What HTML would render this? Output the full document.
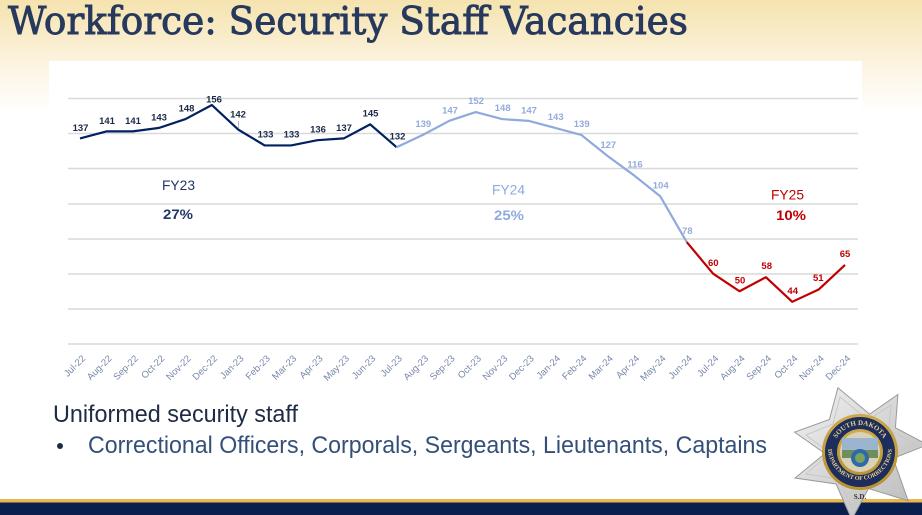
<!DOCTYPE html>
<html><head><meta charset="utf-8"><style>
html,body{margin:0;padding:0;background:#fff;}
svg{display:block;}
</style></head><body>
<svg width="922" height="515" viewBox="0 0 922 515" xmlns="http://www.w3.org/2000/svg">
<defs>
<linearGradient id="bg" x1="0" y1="0" x2="0" y2="1">
<stop offset="0" stop-color="#f5e3af"/>
<stop offset="0.35" stop-color="#f9edcd"/>
<stop offset="0.65" stop-color="#fdf7e8"/>
<stop offset="1" stop-color="#ffffff"/>
</linearGradient>
<linearGradient id="silver" x1="0" y1="0" x2="1" y2="1">
<stop offset="0" stop-color="#f2f2f2"/>
<stop offset="0.5" stop-color="#d4d4d4"/>
<stop offset="1" stop-color="#b8b8b8"/>
</linearGradient>
<radialGradient id="gold" cx="0.5" cy="0.4" r="0.6">
<stop offset="0" stop-color="#f0d27a"/>
<stop offset="1" stop-color="#b8912e"/>
</radialGradient>
<path id="arcTop" d="M 833 452 A 27 27 0 0 1 887 452"/>
<path id="arcBot" d="M 828 448 A 32 32 0 0 0 892 448"/>
</defs>
<rect x="0" y="0" width="922" height="115" fill="url(#bg)"/>
<rect x="49" y="61" width="813" height="320" fill="#ffffff"/>

<!-- title -->
<text x="8" y="34" font-family="'DejaVu Serif','Liberation Serif',serif" font-size="38" fill="#27395c" stroke="#27395c" stroke-width="0.9" textLength="680" lengthAdjust="spacingAndGlyphs">Workforce: Security Staff Vacancies</text>

<!-- gridlines -->
<g stroke="#d9d9d9" stroke-width="1.5">
<line x1="68" y1="98.5" x2="858" y2="98.5"/>
<line x1="68" y1="133.5" x2="858" y2="133.5"/>
<line x1="68" y1="168.5" x2="858" y2="168.5"/>
<line x1="68" y1="204" x2="858" y2="204"/>
<line x1="68" y1="239" x2="858" y2="239"/>
<line x1="68" y1="274" x2="858" y2="274"/>
<line x1="68" y1="309" x2="858" y2="309"/>
<line x1="68" y1="344" x2="858" y2="344"/>
</g>

<!-- series -->
<polyline fill="none" stroke="#002060" stroke-width="2.2" stroke-linejoin="round" points="80,138.41 106.38,131.38 132.76,131.38 159.14,127.87 185.52,119.08 211.9,105.03 238.28,129.63 264.66,145.44 291.04,145.44 317.42,140.17 343.8,138.41 370.18,124.36 396.56,147.2"/>
<polyline fill="none" stroke="#8faadc" stroke-width="2.2" stroke-linejoin="round" points="396.56,147.2 422.94,134.9 449.32,120.84 475.7,112.06 502.08,119.08 528.46,120.84 554.84,127.87 581.22,134.9 607.6,155.98 633.98,175.31 660.36,196.39 686.74,242.07"/>
<polyline fill="none" stroke="#c00000" stroke-width="2.2" stroke-linejoin="round" points="686.74,242.07 713.12,273.7 739.5,291.27 765.88,277.21 792.26,301.81 818.64,289.51 845.02,264.92"/>
<line x1="238.6" y1="121" x2="238.6" y2="128" stroke="#a6a6a6" stroke-width="0.8"/>

<!-- data labels -->
<g font-family="'Liberation Sans',Arial,sans-serif" font-size="9.5" font-weight="bold" fill="#1b2a48" text-anchor="middle">
<text x="80.5" y="131">137</text>
<text x="107" y="124">141</text>
<text x="133" y="124">141</text>
<text x="159" y="120.5">143</text>
<text x="186.5" y="111.5">148</text>
<text x="214" y="102.5">156</text>
<text x="238" y="117.5">142</text>
<text x="265.5" y="137.5">133</text>
<text x="291.5" y="137.5">133</text>
<text x="318" y="132.5">136</text>
<text x="344" y="131">137</text>
<text x="370.5" y="116.5">145</text>
<text x="397.5" y="139.5">132</text>
</g>
<g font-family="'Liberation Sans',Arial,sans-serif" font-size="9.5" font-weight="bold" fill="#93acdb" text-anchor="middle">
<text x="423.3" y="126.8">139</text>
<text x="450" y="113.5">147</text>
<text x="476" y="104.2">152</text>
<text x="502.7" y="111.2">148</text>
<text x="529" y="113.5">147</text>
<text x="555.7" y="120.2">143</text>
<text x="581.7" y="126.8">139</text>
<text x="608.3" y="147.8">127</text>
<text x="635" y="167.5">116</text>
<text x="660.7" y="188.5">104</text>
<text x="687.3" y="234.2">78</text>
</g>
<g font-family="'Liberation Sans',Arial,sans-serif" font-size="9.5" font-weight="bold" fill="#c00000" text-anchor="middle">
<text x="713.3" y="265.8">60</text>
<text x="740" y="283.5">50</text>
<text x="766.7" y="269.2">58</text>
<text x="792.7" y="294.2">44</text>
<text x="818.3" y="281.2">51</text>
<text x="845" y="256.8">65</text>
</g>

<!-- FY annotations -->
<g font-family="'Liberation Sans',Arial,sans-serif" font-size="14">
<text x="162" y="190" fill="#1f3864" textLength="33" lengthAdjust="spacingAndGlyphs">FY23</text>
<text x="163" y="219" fill="#1f3864" font-weight="bold" textLength="30" lengthAdjust="spacingAndGlyphs">27%</text>
<text x="492" y="194.5" fill="#8faadc" textLength="33" lengthAdjust="spacingAndGlyphs">FY24</text>
<text x="494" y="220" fill="#8faadc" font-weight="bold" textLength="30" lengthAdjust="spacingAndGlyphs">25%</text>
<text x="771" y="199.5" fill="#c00000" textLength="33" lengthAdjust="spacingAndGlyphs">FY25</text>
<text x="776" y="220" fill="#c00000" font-weight="bold" textLength="30" lengthAdjust="spacingAndGlyphs">10%</text>
</g>

<!-- x axis labels -->
<g font-family="'Liberation Sans',Arial,sans-serif" font-size="9.5" fill="#7888aa" text-anchor="end">
<text transform="translate(86,359) rotate(-45)">Jul-22</text>
<text transform="translate(112.38,359) rotate(-45)">Aug-22</text>
<text transform="translate(138.76,359) rotate(-45)">Sep-22</text>
<text transform="translate(165.14,359) rotate(-45)">Oct-22</text>
<text transform="translate(191.52,359) rotate(-45)">Nov-22</text>
<text transform="translate(217.9,359) rotate(-45)">Dec-22</text>
<text transform="translate(244.28,359) rotate(-45)">Jan-23</text>
<text transform="translate(270.66,359) rotate(-45)">Feb-23</text>
<text transform="translate(297.04,359) rotate(-45)">Mar-23</text>
<text transform="translate(323.42,359) rotate(-45)">Apr-23</text>
<text transform="translate(349.8,359) rotate(-45)">May-23</text>
<text transform="translate(376.18,359) rotate(-45)">Jun-23</text>
<text transform="translate(402.56,359) rotate(-45)">Jul-23</text>
<text transform="translate(428.94,359) rotate(-45)">Aug-23</text>
<text transform="translate(455.32,359) rotate(-45)">Sep-23</text>
<text transform="translate(481.7,359) rotate(-45)">Oct-23</text>
<text transform="translate(508.08,359) rotate(-45)">Nov-23</text>
<text transform="translate(534.46,359) rotate(-45)">Dec-23</text>
<text transform="translate(560.84,359) rotate(-45)">Jan-24</text>
<text transform="translate(587.22,359) rotate(-45)">Feb-24</text>
<text transform="translate(613.6,359) rotate(-45)">Mar-24</text>
<text transform="translate(639.98,359) rotate(-45)">Apr-24</text>
<text transform="translate(666.36,359) rotate(-45)">May-24</text>
<text transform="translate(692.74,359) rotate(-45)">Jun-24</text>
<text transform="translate(719.12,359) rotate(-45)">Jul-24</text>
<text transform="translate(745.5,359) rotate(-45)">Aug-24</text>
<text transform="translate(771.88,359) rotate(-45)">Sep-24</text>
<text transform="translate(798.26,359) rotate(-45)">Oct-24</text>
<text transform="translate(824.64,359) rotate(-45)">Nov-24</text>
<text transform="translate(851.02,359) rotate(-45)">Dec-24</text>
</g>

<!-- body text -->
<text x="53" y="422" font-family="'Liberation Sans',Arial,sans-serif" font-size="24" fill="#1f2a44" textLength="245" lengthAdjust="spacingAndGlyphs">Uniformed security staff</text>
<circle cx="60" cy="446" r="3" fill="#1f2a44"/>
<text x="88" y="453" font-family="'Liberation Sans',Arial,sans-serif" font-size="24" fill="#34507a" textLength="679" lengthAdjust="spacingAndGlyphs">Correctional Officers, Corporals, Sergeants, Lieutenants, Captains</text>

<!-- bottom bar -->
<rect x="0" y="499" width="922" height="3.5" fill="#e8b84a"/>
<rect x="0" y="502.5" width="922" height="12.5" fill="#0b1f4f"/>

<!-- badge -->
<g>
<polygon fill="url(#silver)" stroke="#9a9a9a" stroke-width="1" points="837.9,387.7 869.6,414.1 897.9,394.5 895.4,427.8 927.6,444.8 893.2,458.3 908.1,500.7 868.5,488.5 851.8,519.5 836.1,484.0 795.0,478.0 825.0,453.5 794.6,432.2 829.4,419.5"/>
<polygon fill="none" stroke="#c8c8c8" stroke-width="1" points="840,397 868,420 891,405 889,430 915,444 888,456 899,492 866,482 852,509 839,479 806,474 830,453 806,435 833,424"/>
<circle cx="860" cy="452" r="38" fill="url(#gold)"/>
<circle cx="860" cy="452" r="35" fill="#1d2d5c"/>
<circle cx="860" cy="452" r="23" fill="url(#gold)"/>
<circle cx="860" cy="452" r="20" fill="#d9d2b8"/>
<rect x="842" y="438" width="36" height="12" fill="#9bb5cf"/>
<rect x="842" y="450" width="36" height="8" fill="#6f8f5a"/>
<circle cx="860" cy="458" r="9" fill="#2f6aa8"/>
<circle cx="860" cy="458" r="5" fill="#7ca35a"/>
<text font-family="'Liberation Serif',serif" font-size="7" font-weight="bold" fill="#e8d08a"><textPath href="#arcTop" startOffset="50%" text-anchor="middle">SOUTH DAKOTA</textPath></text>
<text font-family="'Liberation Serif',serif" font-size="6" font-weight="bold" fill="#e8d08a"><textPath href="#arcBot" startOffset="50%" text-anchor="middle">DEPARTMENT OF CORRECTIONS</textPath></text>
<text x="860" y="499" font-family="'Liberation Serif',serif" font-size="7" font-weight="bold" fill="#333" text-anchor="middle">S.D.</text>
</g>
</svg>
</body></html>
